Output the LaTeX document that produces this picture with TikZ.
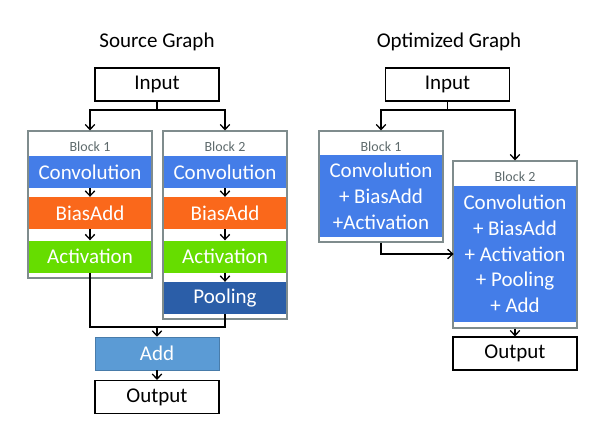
\documentclass[tikz,border=0pt]{standalone}
\usepackage{fontspec}
\setmainfont{Carlito}
\usetikzlibrary{arrows.meta, positioning, calc}

\definecolor{convblue}{RGB}{68,125,232}
\definecolor{biasorange}{RGB}{250,104,27}
\definecolor{actgreen}{RGB}{102,221,0}
\definecolor{poolblue}{RGB}{43,94,168}
\definecolor{addblue}{RGB}{91,155,213}
\definecolor{blockgray}{RGB}{127,140,141}
\definecolor{taggray}{RGB}{95,107,109}

\tikzset{
  iobox/.style={draw, line width=1.2pt, minimum width=124pt, minimum height=33pt, inner sep=0pt, font=\fontsize{21}{24}\selectfont},
  blockbox/.style={draw=blockgray, line width=1.2pt, fill=white, minimum width=124pt, inner sep=0pt},
  bar/.style={minimum width=122.5pt, minimum height=32pt, inner sep=0pt, text=white, font=\fontsize{21}{24}\selectfont},
  tag/.style={text=taggray, font=\fontsize{14}{16}\selectfont},
  flow/.style={-{Straight Barb[length=5pt,width=9.5pt]}, line width=1.3pt},
  wire/.style={line width=1.3pt},
}

\begin{document}
\begin{tikzpicture}[x=1pt, y=-1pt]
    \useasboundingbox (0,0) rectangle (604,441);

    % Titles
    \node[font=\fontsize{21}{24}\selectfont] (srcTitle) at (157,42) {Source Graph};
    \node[font=\fontsize{21}{24}\selectfont] (optTitle) at (449,42) {Optimized Graph};

    % Source graph
    \node[iobox] (inL) at (157,84.5) {Input};
    \node[blockbox, minimum height=147pt] (blkA) at (90,204.5) {};
    \node[blockbox, minimum height=188pt] (blkB) at (225,225) {};
    \node[tag] (tagA) at (90,147) {Block 1};
    \node[tag] (tagB) at (225,147) {Block 2};

    \node[bar, fill=convblue] (convA) at (90,172) {Convolution};
    \node[bar, fill=biasorange] (biasA) at (90,213) {BiasAdd};
    \node[bar, fill=actgreen] (actA) at (90,256.5) {Activation};

    \node[bar, fill=convblue] (convB) at (225,172) {Convolution};
    \node[bar, fill=biasorange] (biasB) at (225,213) {BiasAdd};
    \node[bar, fill=actgreen] (actB) at (225,256.5) {Activation};
    \node[bar, fill=poolblue] (poolB) at (225,298) {Pooling};

    \node[iobox, draw=addblue!80!black, line width=0.6pt, fill=addblue, text=white] (add) at (157,353.5) {Add};
    \node[iobox] (outL) at (157,397) {Output};

    \coordinate (splitL) at (157,110);
    \coordinate (joinL) at (157,327);
    \draw[wire] (inL) -- (splitL);
    \draw[flow] (splitL) -| (blkA.north);
    \draw[flow] (splitL) -| (blkB.north);
    \draw[flow] (convA) -- (biasA);
    \draw[flow] (biasA) -- (actA);
    \draw[flow] (convB) -- (biasB);
    \draw[flow] (biasB) -- (actB);
    \draw[flow] (actB) -- (poolB);
    \draw[wire] (actA.south) |- (joinL) -| (poolB.south);
    \draw[flow] (joinL) -- (add);
    \draw[flow] (add) -- (outL);

    % Optimized graph
    \node[iobox] (inR) at (447.5,84.5) {Input};
    \node[blockbox, minimum height=111pt] (blkC) at (381,186.5) {};
    \node[blockbox, minimum height=167pt] (blkD) at (515,244.5) {};
    \node[tag] (tagC) at (381,147) {Block 1};
    \node[tag] (tagD) at (515,177) {Block 2};

    \node[bar, fill=convblue, minimum height=82pt, align=center, font=\fontsize{21}{26}\selectfont] (fuseC) at (381,196)
        {Convolution\\+ BiasAdd\\+Activation};
    \node[bar, fill=convblue, minimum height=136pt, align=center, font=\fontsize{21}{25.7}\selectfont] (fuseD) at (515,254)
        {Convolution\\+ BiasAdd\\+ Activation\\+ Pooling\\+ Add};
    \node[iobox] (outR) at (515,353.5) {Output};

    \coordinate (splitR) at (447.5,110);
    \draw[wire] (inR) -- (splitR);
    \draw[flow] (splitR) -| (blkC.north);
    \draw[flow] (splitR) -| (blkD.north);
    \draw[flow] (blkC.south) |- (fuseD.west);
    \draw[flow] (blkD) -- (outR);
\end{tikzpicture}
\end{document}
